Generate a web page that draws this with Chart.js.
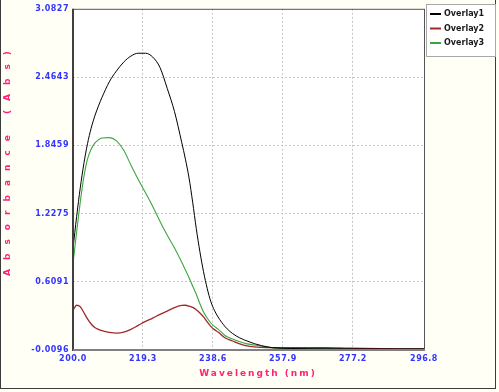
<!DOCTYPE html>
<html>
<head>
<meta charset="utf-8">
<script src="https://cdn.jsdelivr.net/npm/chart.js@4/dist/chart.umd.min.js"></script>
<style>
  html, body { margin: 0; padding: 0; background: #fffff6; }
  canvas { display: block; }
</style>
</head>
<body>
<canvas id="myChart" width="499" height="392"></canvas>
<script>
// wavelength (nm) along the x-axis
var wavelength = [200, 201, 202, 203, 204, 205, 206, 207, 208, 210, 212, 214, 216, 218, 220, 222, 224, 226, 228, 230,
                  231, 232, 233, 234, 235, 236, 237, 238, 239, 240, 242, 244, 246, 248, 250, 252, 255, 260, 265, 270,
                  275, 280, 285, 290, 296.8];
// absorbance of each overlay
var overlay1 = [0.910, 1.200, 1.460, 1.680, 1.860, 2.000, 2.110, 2.200, 2.280, 2.420, 2.520, 2.600, 2.655, 2.680, 2.680, 2.645, 2.550, 2.360, 2.150, 1.870,
                1.720, 1.550, 1.330, 1.090, 0.880, 0.700, 0.550, 0.430, 0.350, 0.290, 0.200, 0.140, 0.100, 0.072, 0.048, 0.030, 0.012, 0.004, 0.002, 0.001,
                0.001, 0.001, 0.000, 0.000, 0.000];
var overlay2 = [0.351, 0.396, 0.383, 0.330, 0.272, 0.226, 0.195, 0.178, 0.166, 0.151, 0.144, 0.152, 0.178, 0.214, 0.250, 0.280, 0.314, 0.343, 0.375, 0.395,
                0.396, 0.388, 0.376, 0.355, 0.325, 0.290, 0.245, 0.205, 0.175, 0.153, 0.099, 0.072, 0.046, 0.028, 0.019, 0.014, 0.012, 0.012, 0.012, 0.012,
                0.008, 0.004, 0.002, 0.001, 0.001];
var overlay3 = [0.775, 1.060, 1.330, 1.560, 1.720, 1.810, 1.865, 1.895, 1.912, 1.915, 1.885, 1.800, 1.665, 1.535, 1.415, 1.290, 1.155, 1.030, 0.915, 0.785,
                0.715, 0.645, 0.570, 0.495, 0.410, 0.335, 0.280, 0.235, 0.205, 0.180, 0.120, 0.090, 0.065, 0.046, 0.036, 0.025, 0.010, 0.005, 0.004, 0.003,
                0.002, 0.002, 0.001, 0.001, 0.001];

var xTicks = [200.0, 219.3, 238.6, 257.9, 277.2, 296.8];
var yTicks = [-0.0096, 0.6091, 1.2275, 1.8459, 2.4643, 3.0827];

function pts(arr) {
  return arr.map(function(v, i) { return {x: wavelength[i], y: v}; });
}

var tickFont = {family: 'DejaVu Sans', size: 8, weight: 'bold'};
var tickColor = '#3434ff';
var titleColor = '#ff2277';

var framePlugin = {
  id: 'frame',
  beforeDraw: function(chart) {
    var ctx = chart.ctx, a = chart.chartArea;
    ctx.save();
    ctx.fillStyle = '#fffff6';
    ctx.fillRect(0, 0, chart.width, chart.height);
    ctx.fillStyle = '#ffffff';
    ctx.fillRect(a.left, a.top, a.right - a.left, a.bottom - a.top);
    ctx.restore();
    ctx.letterSpacing = '0.5px';   // wider tick labels
  },
  afterDraw: function(chart) {
    var ctx = chart.ctx, a = chart.chartArea;
    ctx.save();
    // plot box
    ctx.strokeStyle = '#555555';
    ctx.lineWidth = 1;
    ctx.beginPath();
    ctx.moveTo(a.left, a.top + 0.5); ctx.lineTo(a.right, a.top + 0.5);
    ctx.moveTo(a.right + 0.5, a.top); ctx.lineTo(a.right + 0.5, a.bottom);
    ctx.stroke();
    ctx.strokeStyle = '#404040';
    ctx.lineWidth = 2;
    ctx.beginPath();
    ctx.moveTo(a.left, a.top); ctx.lineTo(a.left, a.bottom + 1);
    ctx.stroke();
    ctx.strokeStyle = '#808080';
    ctx.beginPath();
    ctx.moveTo(a.left, a.bottom); ctx.lineTo(a.right + 1, a.bottom);
    ctx.stroke();

    // outer window edge
    ctx.strokeStyle = '#3c3c3c';
    ctx.lineWidth = 1;
    ctx.beginPath();
    ctx.moveTo(0.5, 0); ctx.lineTo(0.5, 389);
    ctx.moveTo(0, 388.5); ctx.lineTo(496, 388.5);
    ctx.moveTo(495.5, 0); ctx.lineTo(495.5, 389);
    ctx.stroke();

    // axis titles
    ctx.fillStyle = titleColor;
    ctx.font = 'bold 9px "DejaVu Sans"';
    ctx.textAlign = 'center';
    ctx.textBaseline = 'middle';
    ctx.letterSpacing = '2px';
    ctx.fillText('Wavelength (nm)', 258, 374);
    ctx.save();
    ctx.translate(8, 159);
    ctx.rotate(-Math.PI / 2);
    ctx.letterSpacing = '9px';
    ctx.fillText('Absorbance (Abs)', 0, 0);
    ctx.restore();
    ctx.letterSpacing = '0px';

    // legend box
    ctx.fillStyle = '#ffffff';
    ctx.fillRect(426, 4, 69, 52);
    ctx.strokeStyle = '#a8a8a8';
    ctx.strokeRect(426.5, 4.5, 69, 52);
    ctx.font = 'bold 8px "DejaVu Sans"';
    ctx.textAlign = 'left';
    chart.data.datasets.forEach(function(ds, i) {
      var y = 14 + i * 14.5;
      ctx.strokeStyle = ds.borderColor;
      ctx.lineWidth = 2;
      ctx.beginPath();
      ctx.moveTo(430, y); ctx.lineTo(441, y);
      ctx.stroke();
      ctx.fillStyle = '#1a1a1a';
      ctx.fillText(ds.label, 444, y);
    });
    ctx.restore();
  }
};

var ctx = document.getElementById('myChart');
var myChart = new Chart(ctx, {
  type: 'line',
  data: {
    datasets: [
      {label: 'Overlay1', data: pts(overlay1), borderColor: '#000000', borderWidth: 1},
      {label: 'Overlay2', data: pts(overlay2), borderColor: '#a02828', borderWidth: 1.3},
      {label: 'Overlay3', data: pts(overlay3), borderColor: '#3ca63c', borderWidth: 1.1}
    ]
  },
  options: {
    responsive: false,
    animation: false,
    events: [],
    layout: {padding: {top: 7, right: 75, left: 0, bottom: 0}},
    elements: {
      point: {radius: 0},
      line: {cubicInterpolationMode: 'monotone', fill: false}
    },
    plugins: {legend: {display: false}, tooltip: {enabled: false}},
    scales: {
      x: {
        type: 'linear',
        min: 200, max: 296.8,
        afterBuildTicks: function(s) { s.ticks = xTicks.map(function(v) { return {value: v}; }); },
        afterFit: function(s) { s.height = 42; },
        ticks: {
          font: tickFont, color: tickColor, padding: 4, maxRotation: 0, autoSkip: false,
          callback: function(v) { return v.toFixed(1); }
        },
        grid: {
          color: function(c) { return (c.index === 0 || c.index === xTicks.length - 1) ? 'rgba(0,0,0,0)' : '#c8c8c8'; },
          tickLength: 0, lineWidth: 1
        },
        border: {display: false, dash: [2, 2]}
      },
      y: {
        min: -0.0096, max: 3.0827,
        afterBuildTicks: function(s) { s.ticks = yTicks.map(function(v) { return {value: v}; }); },
        afterFit: function(s) { s.width = 73; },
        ticks: {
          font: tickFont, color: tickColor, padding: 4, autoSkip: false,
          callback: function(v) { return v.toFixed(4); }
        },
        grid: {
          color: function(c) { return (c.index === 0 || c.index === yTicks.length - 1) ? 'rgba(0,0,0,0)' : '#c8c8c8'; },
          tickLength: 0, lineWidth: 1
        },
        border: {display: false, dash: [2, 2]}
      }
    }
  },
  plugins: [framePlugin]
});
</script>
</body>
</html>
